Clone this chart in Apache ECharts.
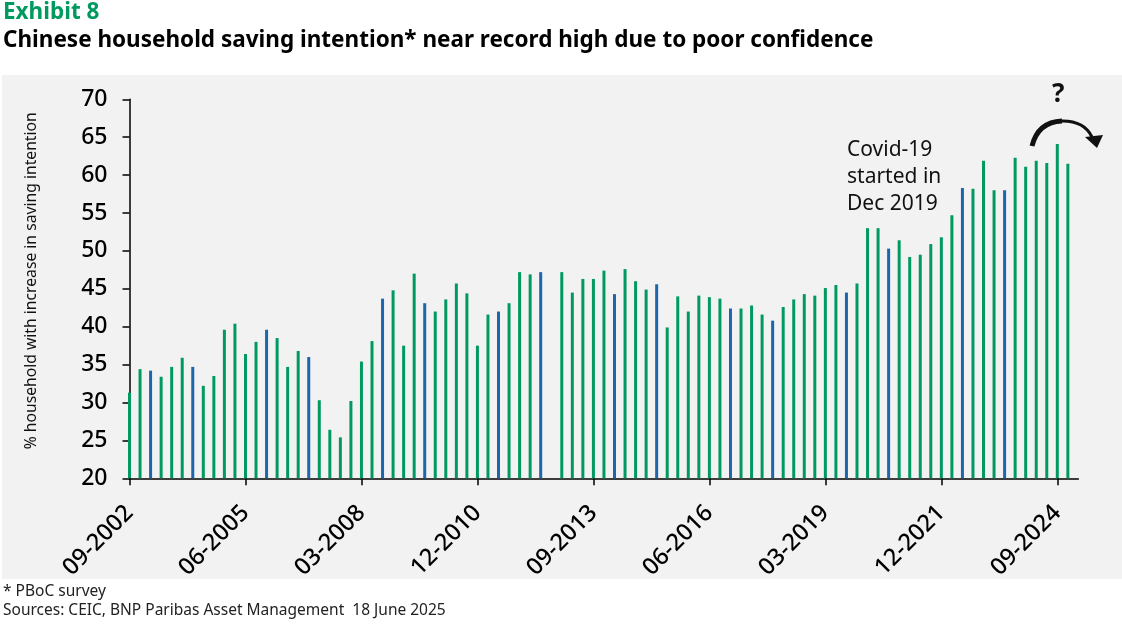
<!DOCTYPE html>
<html>
<head>
<meta charset="utf-8">
<title>Exhibit 8</title>
<script src="https://cdn.jsdelivr.net/npm/echarts@6/dist/echarts.min.js"></script>
<style>
  html, body { margin: 0; padding: 0; background: #fff; }
  #main { width: 1122px; height: 625px; }
</style>
</head>
<body>
<div id="main"></div>
<script type="text/javascript">
// quarterly categories, 09-2002 .. 03-2025 (last one has no value yet)
var quarters = [];
for (var y = 2002; y <= 2025; y++) {
  ['03', '06', '09', '12'].forEach(function (m) {
    var key = y * 100 + Number(m);
    if (key >= 200209 && key <= 202503) quarters.push(m + '-' + y);
  });
}

// % of households with increase in saving intention (PBoC survey)
var saving = [
  31.3, 34.4, 34.2, 33.4, 34.7, 35.9, 34.7, 32.2, 33.5, 39.6,
  40.4, 36.4, 38.0, 39.6, 38.5, 34.7, 36.8, 36.0, 30.3, 26.4,
  25.4, 30.2, 35.4, 38.1, 43.7, 44.8, 37.5, 47.0, 43.1, 42.0,
  43.6, 45.7, 44.4, 37.5, 41.6, 42.0, 43.1, 47.2, 46.9, 47.2,
  null, 47.2, 44.5, 46.3, 46.3, 47.4, 44.3, 47.6, 46.0, 44.9,
  45.6, 39.9, 44.0, 42.0, 44.1, 43.9, 43.7, 42.4, 42.4, 42.8,
  41.6, 40.8, 42.6, 43.6, 44.3, 44.1, 45.1, 45.5, 44.5, 45.7,
  53.0, 53.0, 50.3, 51.4, 49.2, 49.5, 50.9, 51.8, 54.7, 58.3,
  58.2, 61.9, 58.0, 58.0, 62.3, 61.1, 61.9, 61.6, 64.1, 61.5,
  null
];

var yTicks = [20, 25, 30, 35, 40, 45, 50, 55, 60, 65, 70];

// bars that print in blue in the original exhibit
var blueBars = [2, 6, 13, 17, 24, 28, 35, 39, 46, 50, 57, 61, 68, 72, 79, 83];

var GREEN = '#009a60';
var BLUE = '#1b66ad';
var FONT = 'Noto Sans';

var barData = saving.map(function (v, i) {
  return {
    value: v,
    itemStyle: { color: blueBars.indexOf(i) >= 0 ? BLUE : GREEN }
  };
});

var myChart = echarts.init(document.getElementById('main'));

var option = {
  backgroundColor: '#ffffff',
  animation: false,
  textStyle: { fontFamily: FONT },
  graphic: [
    {
      type: 'rect', z: -10, silent: true,
      shape: { x: 2, y: 75, width: 1120, height: 504 },
      style: { fill: '#f2f2f2' }
    },
    {
      type: 'text', x: 3, y: 1,
      style: { text: 'Exhibit 8', fill: GREEN, font: 'bold 22.5px ' + FONT }
    },
    {
      type: 'text', x: 3, y: 29,
      style: {
        text: 'Chinese household saving intention* near record high due to poor confidence',
        fill: '#000', font: 'bold 22.5px ' + FONT
      }
    },
    {
      type: 'text', x: 847, y: 137,
      style: {
        text: 'Covid-19\nstarted in\nDec 2019',
        fill: '#111', font: '21px ' + FONT, lineHeight: 27
      }
    },
    {
      type: 'text', x: 1052, y: 82,
      style: { text: '?', fill: '#111', font: 'bold 26px ' + FONT }
    },
    {
      type: 'bezierCurve', silent: true,
      shape: { x1: 1032, y1: 146, x2: 1062, y2: 121, cpx1: 1038, cpy1: 122 },
      style: { stroke: '#111', lineWidth: 5, fill: null }
    },
    {
      type: 'bezierCurve', silent: true,
      shape: { x1: 1060, y1: 121, x2: 1092, y2: 137, cpx1: 1084, cpy1: 120 },
      style: { stroke: '#111', lineWidth: 3, fill: null }
    },
    {
      type: 'polygon', silent: true,
      shape: { points: [[1085, 137], [1103, 135], [1097, 148]] },
      style: { fill: '#111' }
    },
    {
      type: 'text', x: 3, y: 584,
      style: { text: '* PBoC survey', fill: '#222', font: '15.5px ' + FONT }
    },
    {
      type: 'text', x: 3, y: 603,
      style: {
        text: 'Sources: CEIC, BNP Paribas Asset Management  18 June 2025',
        fill: '#222', font: '15.5px ' + FONT
      }
    }
  ],
  grid: {
    left: 129.5,
    right: 43.6,
    top: 99.3,
    bottom: 146.7,
    containLabel: false
  },
  xAxis: {
    type: 'category',
    data: quarters,
    boundaryGap: false,
    axisLine: { lineStyle: { color: '#000', width: 1.5 } },
    axisTick: { interval: 10, length: 7, lineStyle: { color: '#000', width: 1.5 } },
    axisLabel: {
      interval: 10,
      rotate: 45,
      margin: 31,
      color: '#000',
      fontSize: 23.5,
      fontWeight: 500,
      fontFamily: FONT
    },
    splitLine: { show: false }
  },
  yAxis: {
    type: 'value',
    min: yTicks[0],
    max: yTicks[yTicks.length - 1],
    interval: 5,
    name: '% household with increase in saving intention',
    nameLocation: 'middle',
    nameGap: 90,
    nameTextStyle: { color: '#111', fontSize: 15.7, fontFamily: FONT, padding: [0, 0, 0, 16] },
    axisLine: { show: true, lineStyle: { color: '#000', width: 1.5 } },
    axisTick: { show: true, length: 7, lineStyle: { color: '#000', width: 1.5 } },
    axisLabel: { margin: 22, color: '#000', fontSize: 23, fontWeight: 500, fontFamily: FONT },
    splitLine: { show: false }
  },
  series: [{
    type: 'bar',
    data: barData,
    barWidth: 3,
    itemStyle: { color: GREEN }
  }]
};

myChart.setOption(option);
</script>
</body>
</html>
